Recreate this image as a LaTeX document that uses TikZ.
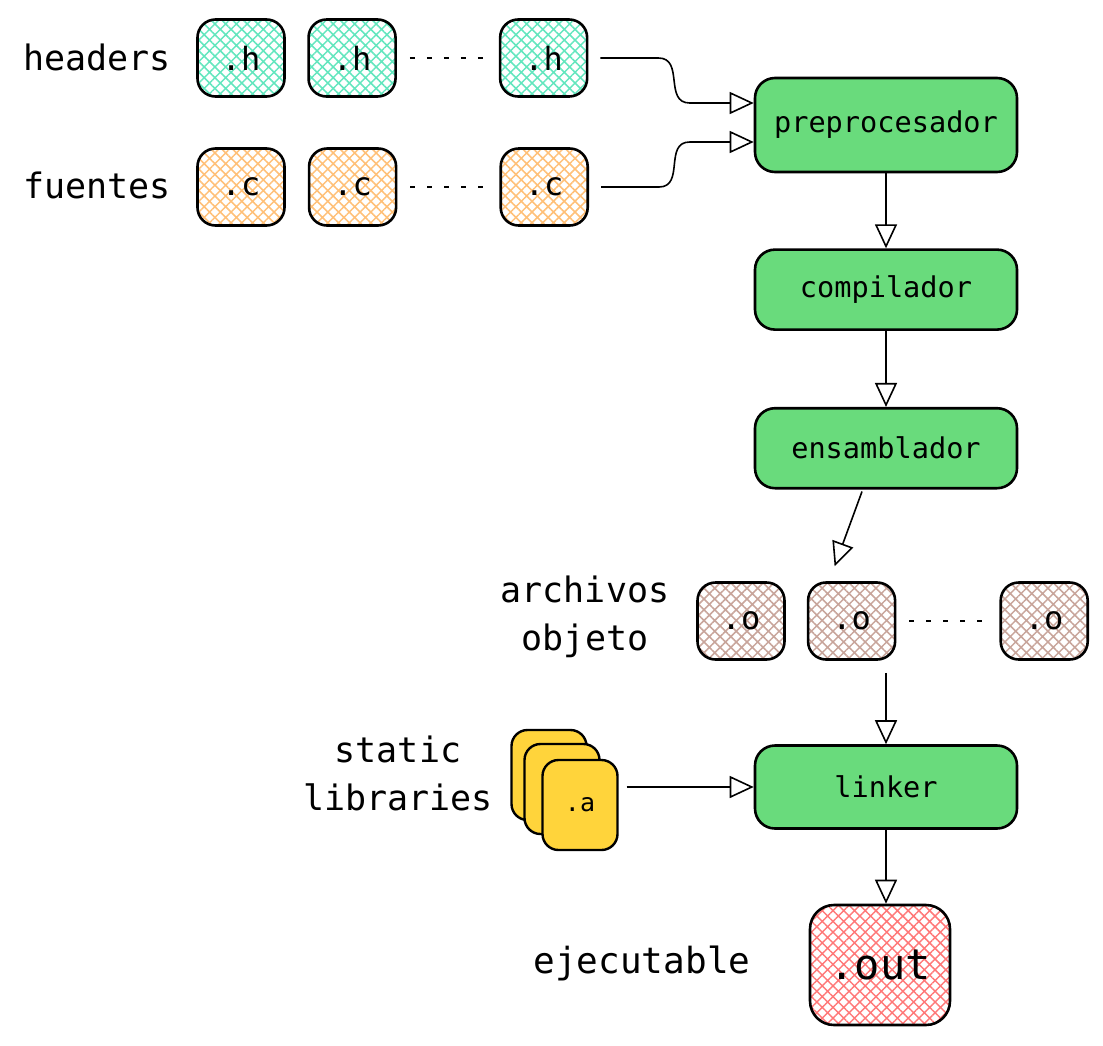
\documentclass[tikz,border=0pt]{standalone}
\usepackage{fontspec}
\setmonofont{DejaVu Sans Mono}
\definecolor{hdrTeal}{RGB}{99,230,190}
\definecolor{srcOrange}{RGB}{255,192,120}
\definecolor{objBrown}{RGB}{200,165,155}
\definecolor{outRed}{RGB}{255,120,120}
\definecolor{stageGreen}{RGB}{105,219,124}
\definecolor{libYellow}{RGB}{255,212,59}
\usetikzlibrary{arrows.meta, positioning, patterns.meta}

\begin{document}
\begin{tikzpicture}[
    x=0.5pt, y=-0.5pt,
    every node/.style={font=\ttfamily},
    sidetext/.style={font=\ttfamily\fontsize{17.5}{24}\selectfont, align=center, inner sep=0pt},
    filebox/.style={draw, line width=1.3pt, rounded corners=9pt, minimum width=43.5pt,
                    minimum height=38.5pt, inner sep=0pt, font=\ttfamily\fontsize{16}{16}\selectfont},
    hatched/.style={pattern={Hatch[angle=45, distance=3.8pt, line width=0.75pt]}, pattern color=#1},
    stage/.style={draw, line width=1.3pt, rounded corners=10pt, fill=stageGreen,
                  minimum width=131pt, minimum height=40pt, font=\ttfamily\fontsize{14.3}{14.3}\selectfont},
    libbox/.style={draw, line width=1.2pt, rounded corners=8pt, fill=libYellow,
                   minimum width=37.5pt, minimum height=45pt, font=\ttfamily\fontsize{12.5}{12.5}\selectfont},
    flow/.style={-{Triangle[open, length=12pt, width=11pt]}, line width=0.8pt},
    gap/.style={line width=1pt, dash pattern=on 2.5pt off 6pt, shorten <=6.5pt, shorten >=6.5pt}
  ]
    \useasboundingbox (0,0) rectangle (1103,1045);

    % inputs
    \node[sidetext] (hdr) at (97,57) {headers};
    \node[filebox, hatched=hdrTeal] (h1) at (241,58) {.h};
    \node[filebox, hatched=hdrTeal, right=11pt of h1] (h2) {.h};
    \node[filebox, hatched=hdrTeal, right=51pt of h2] (h3) {.h};

    \node[sidetext] (src) at (97,185) {fuentes};
    \node[filebox, hatched=srcOrange] (c1) at (241,187) {.c};
    \node[filebox, hatched=srcOrange, right=11pt of c1] (c2) {.c};
    \node[filebox, hatched=srcOrange, right=51pt of c2] (c3) {.c};

    % toolchain
    \node[stage, minimum height=47pt] (pre) at (886,125) {preprocesador};
    \node[stage, below=37.5pt of pre] (comp) {compilador};
    \node[stage, below=38pt of comp] (ens) {ensamblador};

    \node[sidetext] (objs) at (585,617) {archivos\\objeto};
    \node[filebox, hatched=objBrown] (o1) at (741,621) {.o};
    \node[filebox, hatched=objBrown, right=10.5pt of o1] (o2) {.o};
    \node[filebox, hatched=objBrown, right=51.5pt of o2] (o3) {.o};

    \node[sidetext] (libs) at (398,773) {static\\libraries};
    \node[libbox] (a1) at (549,775) {};
    \node[libbox] (a2) at (562,789) {};
    \node[libbox] (a3) at (580,805) {.a};

    \node[stage, minimum height=41.5pt] (linker) at (886,787) {linker};

    \node[sidetext, font=\ttfamily\fontsize{18}{24}\selectfont] (exe) at (642,963) {ejecutable};
    \node[filebox, hatched=outRed, minimum width=70pt, minimum height=60pt, rounded corners=12pt,
          font=\ttfamily\fontsize{21}{21}\selectfont] (out) at (880,965) {.out};

    % connectors
    \draw[gap] (h2) -- (h3);
    \draw[gap] (c2) -- (c3);
    \draw[gap] (o2) -- (o3);

    \draw[flow] ([xshift=6pt]h3.east) -- ++(58,0)
      .. controls +(26,0) and +(-26,0) .. ([xshift=-32pt,yshift=11pt]pre.west) -- ([yshift=11pt]pre.west);
    \draw[flow] ([xshift=6pt]c3.east) -- ++(58,0)
      .. controls +(26,0) and +(-26,0) .. ([xshift=-32pt,yshift=-8.5pt]pre.west) -- ([yshift=-8.5pt]pre.west);
    \draw[flow] (pre) -- (comp);
    \draw[flow] (comp) -- (ens);
    \draw[flow] ([xshift=-12pt,yshift=-1pt]ens.south) -- ([xshift=-8.5pt,yshift=7.5pt]o2.north);

    \coordinate[below=6pt of o2.south] (ojoin);
    \draw[flow] (ojoin -| linker.north) -- (linker.north);
    \coordinate[right=4pt of a3.east] (aout);
    \draw[flow] (aout |- linker.west) -- (linker.west);
    \draw[flow] (linker.south) -- (linker.south |- out.north);
  \end{tikzpicture}
\end{document}
